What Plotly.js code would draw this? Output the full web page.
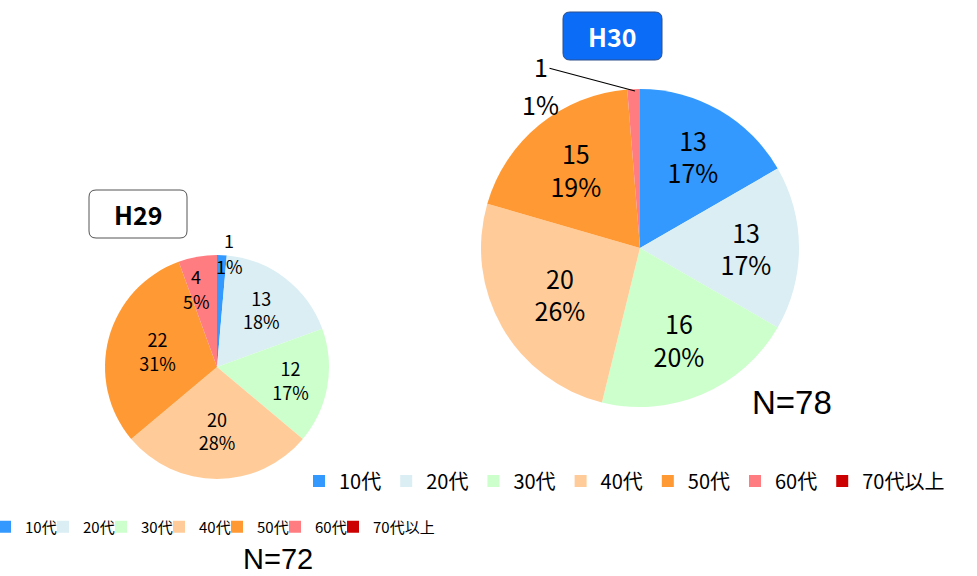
<!DOCTYPE html>
<html>
<head>
<meta charset="utf-8">
<script src="https://cdn.plot.ly/plotly-3.0.1.min.js"></script>
<style>
  body { margin: 0; background: #fff; }
  #chart { width: 977px; height: 576px; }
  /* the small legend uses fixed narrow entries; let the last label show in full */
  #chart .legend2 .scrollbox, #chart .legend .scrollbox { clip-path: none !important; }
</style>
</head>
<body>
<div id="chart"></div>
<script>
// age groups (same for both years)
const ageGroups = ['10代', '20代', '30代', '40代', '50代', '60代', '70代以上'];
const sliceColors = ['#3399ff', '#daeef3', '#ccffcc', '#ffcc99', '#ff9933', '#ff7c80', '#cc0000'];

// H29 (N=72)
const countsH29 = [1, 13, 12, 20, 22, 4, 0];
const pctLabelsH29 = ['1%', '18%', '17%', '28%', '31%', '5%', '0%'];

// H30 (N=78)
const countsH30 = [13, 13, 16, 20, 15, 1, 0];
const pctLabelsH30 = ['17%', '17%', '20%', '26%', '19%', '1%', '0%'];

const W = 977, H = 576;
const font = '"Noto Sans CJK JP", "Noto Sans", sans-serif';
const latin = '"Liberation Sans", Arial, sans-serif';

// pixel -> paper helpers
const px = x => x / W;
const py = y => 1 - y / H;

function roundedRect(x0, y0, x1, y1, r, fill, line) {
    const X = v => px(v), Y = v => py(v);
    const path = 'M' + X(x0 + r) + ',' + Y(y0) +
        ' L' + X(x1 - r) + ',' + Y(y0) +
        ' Q' + X(x1) + ',' + Y(y0) + ' ' + X(x1) + ',' + Y(y0 + r) +
        ' L' + X(x1) + ',' + Y(y1 - r) +
        ' Q' + X(x1) + ',' + Y(y1) + ' ' + X(x1 - r) + ',' + Y(y1) +
        ' L' + X(x0 + r) + ',' + Y(y1) +
        ' Q' + X(x0) + ',' + Y(y1) + ' ' + X(x0) + ',' + Y(y1 - r) +
        ' L' + X(x0) + ',' + Y(y0 + r) +
        ' Q' + X(x0) + ',' + Y(y0) + ' ' + X(x0 + r) + ',' + Y(y0) + ' Z';
    return { type: 'path', xref: 'paper', yref: 'paper', path: path,
             fillcolor: fill, line: { color: line, width: 1 }, layer: 'above' };
}

function textNote(text, x, y, size, color, fam) {
    return {
        text: text, x: px(x), y: py(y), xanchor: 'center', yanchor: 'middle',
        xref: 'paper', yref: 'paper', showarrow: false,
        font: { family: fam || font, size: size, color: color || '#000' }
    };
}

// thin slices (1 and 4 in H29, 1 in H30) are labelled separately, like the original
const posH29 = countsH29.map(v => v <= 4 ? 'none' : 'inside');
const posH30 = countsH30.map(v => v <= 1 ? 'none' : 'inside');

const pieH29 = {
    type: 'pie',
    labels: ageGroups,
    values: countsH29,
    customdata: pctLabelsH29,
    texttemplate: '%{value}<br>%{customdata}',
    textposition: posH29,
    insidetextorientation: 'horizontal',
    textfont: { family: font, size: 18, color: '#000' },
    marker: { colors: sliceColors, line: { width: 0 } },
    sort: false,
    direction: 'clockwise',
    rotation: 0,
    hoverinfo: 'label+value+percent',
    domain: { x: [px(105), px(329)], y: [py(479), py(255)] },
    legend: 'legend2'
};

const pieH30 = {
    type: 'pie',
    // zero-width space keeps the second legend separate from the first
    labels: ageGroups.map(s => s + '\u200b'),
    values: countsH30,
    customdata: pctLabelsH30,
    texttemplate: '%{value}<br>%{customdata}',
    textposition: posH30,
    insidetextorientation: 'horizontal',
    textfont: { family: font, size: 25, color: '#000' },
    marker: { colors: sliceColors, line: { width: 0 } },
    sort: false,
    direction: 'clockwise',
    rotation: 0,
    hoverinfo: 'label+value+percent',
    domain: { x: [px(481), px(799)], y: [py(407), py(89)] },
    legend: 'legend'
};

const layout = {
    width: W,
    height: H,
    margin: { l: 0, r: 0, t: 0, b: 0, autoexpand: false },
    paper_bgcolor: '#fff',
    font: { family: font, color: '#000' },
    legend: {
        orientation: 'h',
        x: px(299), y: py(481),
        xanchor: 'left', yanchor: 'middle',
        font: { family: font, size: 20, color: '#000' },
        itemwidth: 30,
        traceorder: 'normal'
    },
    legend2: {
        orientation: 'h',
        x: px(-15), y: py(527),
        xanchor: 'left', yanchor: 'middle',
        font: { family: font, size: 15, color: '#000' },
        entrywidth: 13,
        itemwidth: 30,
        traceorder: 'normal'
    },
    shapes: [
        roundedRect(89, 190, 187, 238, 7, '#fff', '#555'),
        roundedRect(563, 12, 662, 60, 7, '#0a6cf7', '#2d4f8a')
    ],
    annotations: [
        textNote('<b>H29</b>', 138, 214, 25),
        textNote('<b>H30</b>', 612, 36, 25, '#fff'),
        // H29 thin slices
        textNote(String(countsH29[0]), 229, 240, 18),
        textNote(pctLabelsH29[0], 229, 266, 18),
        textNote(String(countsH29[5]), 196, 276, 18),
        textNote(pctLabelsH29[5], 196, 301, 18),
        {
            // 60代 of H30 with leader line
            text: String(countsH30[5]), x: px(635), y: py(91), ax: -94, ay: -25,
            xref: 'paper', yref: 'paper', showarrow: true, arrowhead: 0,
            arrowwidth: 1.2, arrowcolor: '#000', standoff: 0,
            font: { family: font, size: 25, color: '#000' }
        },
        textNote(pctLabelsH30[5], 540, 104, 25),
        textNote('N=72', 278, 559, 29, '#000', latin),
        textNote('N=78', 792, 402, 33, '#000', latin)
    ]
};

Plotly.newPlot('chart', [pieH29, pieH30], layout, { displayModeBar: false, responsive: false });
</script>
</body>
</html>
